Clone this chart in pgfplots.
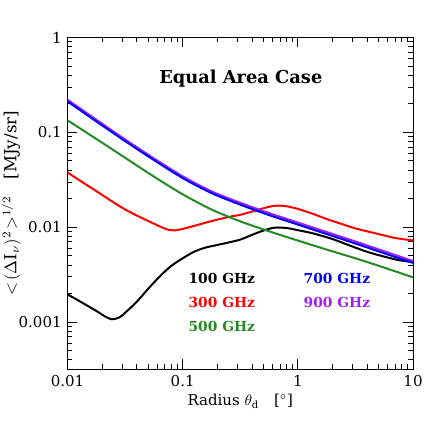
\documentclass[border=0pt]{standalone}
\usepackage{pgfplots}
\pgfplotsset{compat=1.18}
\usepackage{fontspec}
\setmainfont{DejaVu Serif}
\definecolor{cRed}{RGB}{255,0,0}
\definecolor{cGreen}{RGB}{34,139,34}
\definecolor{cBlue}{RGB}{0,0,255}
\definecolor{cPurple}{RGB}{160,32,240}

\begin{document}
\begin{tikzpicture}
\useasboundingbox (-40.5pt,-40.2pt) rectangle (221.1pt,221.4pt);
\begin{axis}[
  at={(0,0)}, anchor=south west,
  scale only axis, width=207.3pt, height=198.9pt,
  xmode=log, ymode=log,
  xmin=0.01, xmax=10, ymin=3.2e-4, ymax=1,
  log ticks with fixed point,
  /pgf/number format/precision=3,
  /pgf/number format/assume math mode=true,
  tick label style={font=\fontsize{9}{10}\selectfont},
  major tick length=6pt, minor tick length=3pt,
  axis line style={line width=0.6pt},
  every tick/.style={line width=0.5pt, black},
  xlabel={Radius $\theta_{\mathrm{d}}$\quad[$^{\circ}$]},
  ylabel={$<\!(\Delta\mathrm{I}_{\nu})^{2}\!>^{1/2}$\quad[MJy/sr]},
  label style={font=\fontsize{9}{10}\selectfont},
  xlabel style={yshift=2pt},
  every axis y label/.style={at={(axis description cs:-0.163,0.5)}, rotate=90, anchor=center},
  every axis plot/.append style={line width=1.2pt, smooth, no markers},
]
% 100 GHz
\addplot[black] coordinates {
 (0.01,0.00196) (0.0133,0.00161) (0.0178,0.00131) (0.0211,0.00115) (0.0242,0.00107)
 (0.0282,0.00112) (0.0316,0.00125) (0.0398,0.00163) (0.05,0.00223) (0.0631,0.00302)
 (0.0794,0.0039) (0.1,0.0047) (0.126,0.00552) (0.158,0.0061) (0.2,0.0065)
 (0.25,0.0069) (0.316,0.0074) (0.4,0.0083) (0.5,0.0092) (0.631,0.0099)
 (0.8,0.0098) (1,0.0093) (1.36,0.0086) (2,0.0075) (2.65,0.0066)
 (4,0.0055) (5.62,0.0049) (7.5,0.0045) (10,0.0043)};
% 300 GHz
\addplot[cRed] coordinates {
 (0.01,0.0377) (0.0178,0.0240) (0.0316,0.0154) (0.0562,0.0109) (0.0776,0.0093)
 (0.1,0.0096) (0.178,0.0116) (0.257,0.0129) (0.316,0.0135) (0.438,0.0151)
 (0.55,0.0163) (0.655,0.0169) (0.8,0.0166) (1,0.0156) (1.36,0.0138)
 (1.78,0.0122) (2.65,0.0104) (3.16,0.0097) (5.16,0.0084) (7,0.0077) (10,0.00725)};
% 500 GHz
\addplot[cGreen] coordinates {
 (0.01,0.134) (0.01778,0.0853) (0.03162,0.0540) (0.05623,0.0342) (0.1,0.02223)
 (0.1778,0.01538) (0.3162,0.01153) (0.5623,0.00906) (1,0.00723) (1.778,0.00581)
 (3.162,0.00470) (5.623,0.00375) (10,0.00296)};
% 900 GHz
\addplot[cPurple] coordinates {
 (0.01,0.221) (0.01778,0.136) (0.03162,0.0842) (0.05623,0.0532) (0.1,0.0344)
 (0.1778,0.0239) (0.3162,0.0181) (0.5623,0.0141) (1,0.0112) (1.778,0.0089)
 (3.162,0.00707) (5.623,0.00558) (10,0.0044)};
% 700 GHz
\addplot[cBlue] coordinates {
 (0.01,0.212) (0.01778,0.1306) (0.03162,0.0809) (0.05623,0.0511) (0.1,0.0330)
 (0.1778,0.02293) (0.3162,0.0173) (0.5623,0.01343) (1,0.01067) (1.778,0.00847)
 (3.162,0.00673) (5.623,0.00531) (10,0.0042)};

\node[font=\bfseries\fontsize{10.7}{13}\selectfont] at (axis cs:0.32,0.37) {Equal Area Case};
\begin{scope}[every node/.style={anchor=west, font=\bfseries\fontsize{8.3}{10}\selectfont}]
\node[text=black]   at (axis cs:0.1,0.00288) {100 GHz};
\node[text=cRed]    at (axis cs:0.1,0.00161) {300 GHz};
\node[text=cGreen]  at (axis cs:0.1,0.0009)  {500 GHz};
\node[text=cBlue]   at (axis cs:1,0.00288)   {700 GHz};
\node[text=cPurple] at (axis cs:1,0.00161)   {900 GHz};
\end{scope}
\end{axis}
\end{tikzpicture}
\end{document}
